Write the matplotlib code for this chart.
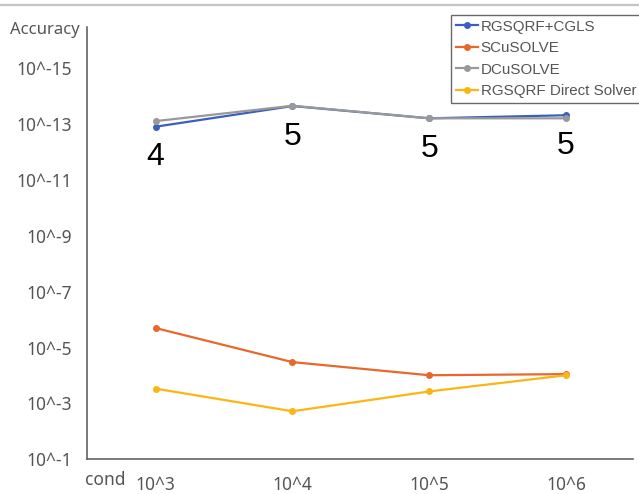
import matplotlib
matplotlib.use("Agg")
import matplotlib.pyplot as plt
from matplotlib.lines import Line2D

# x categories (condition numbers) and accuracy exponents (10^-k -> k)
conds = ["10^3", "10^4", "10^5", "10^6"]
rgsqrf_cgls = [12.91, 13.65, 13.21, 13.32]
scusolve = [5.70, 4.48, 4.01, 4.05]
dcusolve = [13.11, 13.66, 13.21, 13.21]
rgsqrf_direct = [3.53, 2.72, 3.43, 4.01]
iterations = ["4", "5", "5", "5"]

ytick_vals = [1, 3, 5, 7, 9, 11, 13, 15]
ytick_labels = ["10^-%d" % v for v in ytick_vals]

series = [
    ("RGSQRF+CGLS", rgsqrf_cgls, "#3a5fc0"),
    ("SCuSOLVE", scusolve, "#e8672a"),
    ("DCuSOLVE", dcusolve, "#999999"),
    ("RGSQRF Direct Solver", rgsqrf_direct, "#fbb514"),
]

fig = plt.figure(figsize=(6.39, 4.94), dpi=100)
ax = fig.add_axes([87 / 639, 34.7 / 494, 546 / 639, 432.3 / 494])

x = list(range(len(conds)))
for name, vals, col in series:
    ax.plot(x, vals, color=col, lw=1.6, marker="o", ms=4, label=name)

for xi, lab, v in zip(x, iterations, rgsqrf_cgls):
    ax.annotate(lab, (xi, v), xytext=(0, -22), textcoords="offset points",
                ha="center", va="center", fontsize=23,
                family="Liberation Sans", color="black")

ax.set_xlim(-0.502, 3.49)
ax.set_ylim(1, 16.48)
ax.set_xticks(x)
ax.set_xticklabels(conds)
ax.set_yticks(ytick_vals)
ax.set_yticklabels(ytick_labels)
ax.tick_params(length=0, labelsize=12.5, labelcolor="#555555")
ax.tick_params(axis="y", pad=11)
ax.tick_params(axis="x", pad=12)
for lab in ax.get_xticklabels() + ax.get_yticklabels():
    lab.set_family("Noto Sans")

for s in ["top", "right"]:
    ax.spines[s].set_visible(False)
for s in ["left", "bottom"]:
    ax.spines[s].set_color("#555555")
    ax.spines[s].set_linewidth(1.1)

ax.text(-0.0128, 0.993, "Accuracy", transform=ax.transAxes, ha="right",
        va="center", fontsize=12, family="Noto Sans", color="#555555")
ax.text(-0.004, -0.048, "cond", transform=ax.transAxes, ha="left",
        va="center", fontsize=12.5, family="Noto Sans", color="#555555")

leg = ax.legend(loc="upper left", bbox_to_anchor=(451 / 639, 1 - 15 / 494),
                bbox_transform=fig.transFigure, frameon=True, fancybox=False,
                prop={"family": "Liberation Sans", "size": 10.9},
                handlelength=1.5, handletextpad=0.15, labelspacing=0.5,
                borderpad=0.3, borderaxespad=0)
leg.get_frame().set_edgecolor("#444444")
leg.get_frame().set_linewidth(1.0)
for t in leg.get_texts():
    t.set_color("#555555")

fig.add_artist(Line2D([0, 1], [1 - 4.7 / 494, 1 - 4.7 / 494],
                      transform=fig.transFigure, color="#c4c4c4", lw=1.6))

fig.savefig("out.png", dpi=100)
